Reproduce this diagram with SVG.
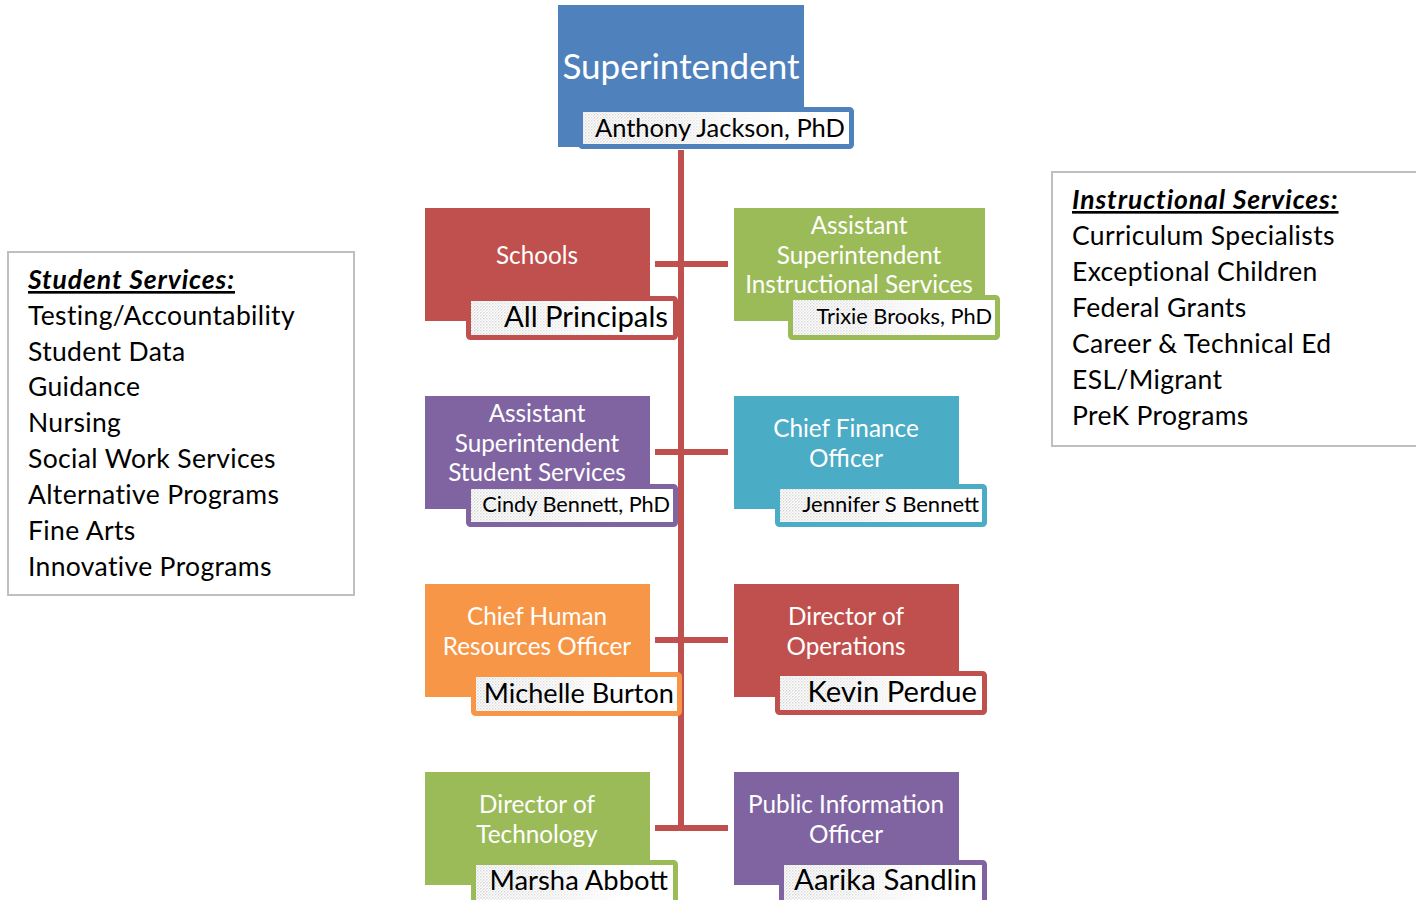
<svg xmlns="http://www.w3.org/2000/svg" width="1416" height="900" viewBox="0 0 1416 900">
<defs>
<pattern id="dots" width="3" height="3" patternUnits="userSpaceOnUse">
<rect width="3" height="3" fill="#ffffff"/>
<rect x="0" y="0" width="1.5" height="1.5" fill="#d6d6d6"/>
<rect x="1.5" y="1.5" width="1.5" height="1.5" fill="#e6e6e6"/>
</pattern>
<linearGradient id="fadeG" x1="0" y1="0" x2="1" y2="0">
<stop offset="0" stop-color="#fff" stop-opacity="1"/>
<stop offset="0.35" stop-color="#fff" stop-opacity="0.8"/>
<stop offset="0.75" stop-color="#fff" stop-opacity="0"/>
</linearGradient>
<mask id="fade" maskContentUnits="objectBoundingBox">
<rect width="1" height="1" fill="url(#fadeG)"/>
</mask>
<style>
.conn{stroke:#C0504D;stroke-width:6;fill:none}
.box{stroke:none}
.frame{fill:#ffffff;stroke-width:5}
.dot{fill:url(#dots)}
.t{font-family:Lato,"Open Sans","Liberation Sans",sans-serif;fill:#ffffff;text-anchor:middle;font-size:24.3px}
.n{font-family:Lato,"Open Sans","Liberation Sans",sans-serif;fill:#000000;text-anchor:end}
.blue{fill:#4F81BD}.red{fill:#C0504D}.green{fill:#9BBB59}.purple{fill:#8064A2}.teal{fill:#4BACC6}.orange{fill:#F79646}
.sblue{stroke:#4F81BD}.sred{stroke:#C0504D}.sgreen{stroke:#9BBB59}.spurple{stroke:#8064A2}.steal{stroke:#4BACC6}.sorange{stroke:#F79646}
.side{fill:#ffffff;stroke:#BFBFBF;stroke-width:2}
.l{font-family:Lato,"Open Sans","Liberation Sans",sans-serif;fill:#000000;font-size:26.5px;letter-spacing:0.35px}
.h{font-weight:bold;font-style:italic;text-decoration:underline;letter-spacing:0.9px}
</style>
</defs>

<g id="connectors">
<line class="conn" x1="681" y1="150" x2="681" y2="831"/>
<line class="conn" x1="655" y1="264" x2="728" y2="264"/>
<line class="conn" x1="655" y1="452" x2="728" y2="452"/>
<line class="conn" x1="655" y1="640" x2="728" y2="640"/>
<line class="conn" x1="655" y1="828" x2="728" y2="828"/>
</g>

<g id="superintendent">
<rect class="box blue" x="558" y="5" width="246" height="142"/>
<text class="t" x="681" y="79" style="font-size:35px">Superintendent</text>
<rect class="frame sblue" x="580.5" y="109.5" width="271" height="37" rx="2"/>
<rect class="dot" x="583" y="112" width="266" height="32" mask="url(#fade)"/>
<text class="n" x="845" y="137" style="font-size:25.5px">Anthony Jackson, PhD</text>
</g>

<g id="schools">
<rect class="box red" x="425" y="208" width="225" height="113"/>
<text class="t" x="537" y="264">Schools</text>
<rect class="frame sred" x="468.5" y="298.5" width="207" height="39" rx="2"/>
<rect class="dot" x="471" y="301" width="202" height="34" mask="url(#fade)"/>
<text class="n" x="668" y="327" style="font-size:29.3px">All Principals</text>
</g>

<g id="asst-instructional">
<rect class="box green" x="734" y="208" width="251" height="113"/>
<text class="t" x="859" y="234">Assistant</text>
<text class="t" x="859" y="264">Superintendent</text>
<text class="t" x="859" y="293">Instructional Services</text>
<rect class="frame sgreen" x="790.5" y="297.5" width="207" height="40" rx="2"/>
<rect class="dot" x="793" y="300" width="202" height="35" mask="url(#fade)"/>
<text class="n" x="992" y="324" style="font-size:21.8px">Trixie Brooks, PhD</text>
</g>

<g id="asst-student">
<rect class="box purple" x="425" y="396" width="225" height="113"/>
<text class="t" x="537" y="422">Assistant</text>
<text class="t" x="537" y="452">Superintendent</text>
<text class="t" x="537" y="481">Student Services</text>
<rect class="frame spurple" x="468.5" y="486.5" width="207" height="38" rx="2"/>
<rect class="dot" x="471" y="489" width="202" height="33" mask="url(#fade)"/>
<text class="n" x="670" y="512" style="font-size:21.7px">Cindy Bennett, PhD</text>
</g>

<g id="cfo">
<rect class="box teal" x="734" y="396" width="225" height="113"/>
<text class="t" x="846" y="437">Chief Finance</text>
<text class="t" x="846" y="467">Officer</text>
<rect class="frame steal" x="777.5" y="486.5" width="207" height="38" rx="2"/>
<rect class="dot" x="780" y="489" width="202" height="33" mask="url(#fade)"/>
<text class="n" x="979" y="512" style="font-size:22px">Jennifer S Bennett</text>
</g>

<g id="chro">
<rect class="box orange" x="425" y="584" width="225" height="113"/>
<text class="t" x="537" y="625">Chief Human</text>
<text class="t" x="537" y="655">Resources Officer</text>
<rect class="frame sorange" x="473.5" y="674.5" width="206" height="39" rx="2"/>
<rect class="dot" x="476" y="677" width="201" height="34" mask="url(#fade)"/>
<text class="n" x="674" y="703" style="font-size:27.1px">Michelle Burton</text>
</g>

<g id="operations">
<rect class="box red" x="734" y="584" width="225" height="113"/>
<text class="t" x="846" y="625">Director of</text>
<text class="t" x="846" y="655">Operations</text>
<rect class="frame sred" x="777.5" y="673.5" width="207" height="39" rx="2"/>
<rect class="dot" x="780" y="676" width="202" height="34" mask="url(#fade)"/>
<text class="n" x="977" y="702" style="font-size:29.2px">Kevin Perdue</text>
</g>

<g id="technology">
<rect class="box green" x="425" y="772" width="225" height="113"/>
<text class="t" x="537" y="813">Director of</text>
<text class="t" x="537" y="843">Technology</text>
<rect class="frame sgreen" x="473.5" y="862.5" width="202" height="40" rx="2"/>
<rect class="dot" x="476" y="865" width="197" height="35" mask="url(#fade)"/>
<text class="n" x="668" y="890" style="font-size:27.4px">Marsha Abbott</text>
</g>

<g id="public-info">
<rect class="box purple" x="734" y="772" width="225" height="113"/>
<text class="t" x="846" y="813">Public Information</text>
<text class="t" x="846" y="843">Officer</text>
<rect class="frame spurple" x="781.5" y="862.5" width="203" height="40" rx="2"/>
<rect class="dot" x="784" y="865" width="198" height="35" mask="url(#fade)"/>
<text class="n" x="977" y="890" style="font-size:29.4px">Aarika Sandlin</text>
</g>

<g id="student-services">
<rect class="side" x="8" y="252" width="346" height="343"/>
<text class="l h" x="28" y="289">Student Services:</text>
<text class="l" x="28" y="325">Testing/Accountability</text>
<text class="l" x="28" y="361">Student Data</text>
<text class="l" x="28" y="396">Guidance</text>
<text class="l" x="28" y="432">Nursing</text>
<text class="l" x="28" y="468">Social Work Services</text>
<text class="l" x="28" y="504">Alternative Programs</text>
<text class="l" x="28" y="540">Fine Arts</text>
<text class="l" x="28" y="576">Innovative Programs</text>
</g>

<g id="instructional-services">
<rect class="side" x="1052" y="172" width="370" height="274"/>
<text class="l h" x="1072" y="209">Instructional Services:</text>
<text class="l" x="1072" y="245">Curriculum Specialists</text>
<text class="l" x="1072" y="281">Exceptional Children</text>
<text class="l" x="1072" y="317">Federal Grants</text>
<text class="l" x="1072" y="353">Career &amp; Technical Ed</text>
<text class="l" x="1072" y="389">ESL/Migrant</text>
<text class="l" x="1072" y="425">PreK Programs</text>
</g>
</svg>
